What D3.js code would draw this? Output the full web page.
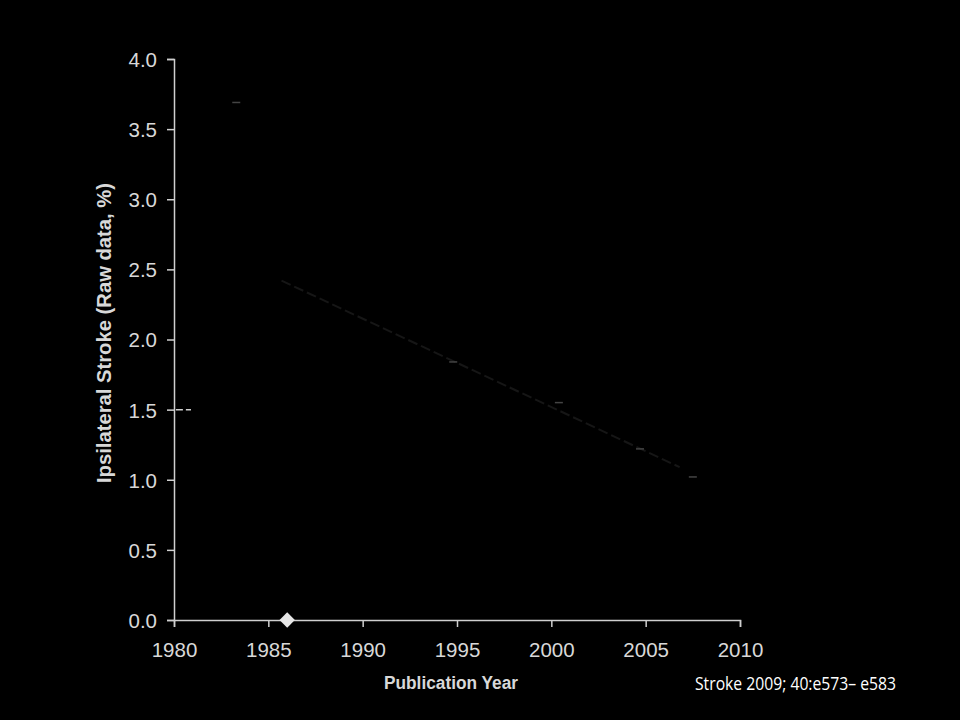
<!DOCTYPE html>
<html><head><meta charset="utf-8">
<script src="https://cdn.jsdelivr.net/npm/d3@7"></script>
<style>html,body{margin:0;padding:0;background:#000;}svg{display:block;}</style>
</head><body>
<script>
// Data
const xTicks = [1980, 1985, 1990, 1995, 2000, 2005, 2010];
const yTicks = [0.0, 0.5, 1.0, 1.5, 2.0, 2.5, 3.0, 3.5, 4.0];
const studyYears = [1983.3, 1994.8, 2000.4, 2004.7, 2007.5];
const studyValues = [3.69, 1.84, 1.55, 1.22, 1.02];
const highlightYear = [1986];
const highlightValue = [0.0];
const refYears = [1980.1, 1980.9];
const refValues = [1.5, 1.5];
const fitYears = [1985.7, 2006.8];
const fitValues = [2.42, 1.09];

const W = 960, H = 720;
const svg = d3.select("body").append("svg").attr("width", W).attr("height", H);
svg.append("rect").attr("width", W).attr("height", H).attr("fill", "#000");

const x = d3.scaleLinear().domain([1980, 2010]).range([174, 740]);
const y = d3.scaleLinear().domain([0, 4]).range([620, 59]);
const axisCol = "#cfcfcf";

// X axis
const xa = svg.append("g").attr("transform", `translate(0,${y(0)})`)
  .call(d3.axisBottom(x).tickValues(xTicks).tickFormat(d3.format("d")).tickSize(7).tickSizeOuter(7).tickPadding(15));
// Y axis
const ya = svg.append("g").attr("transform", `translate(${x(1980)},0)`)
  .call(d3.axisLeft(y).tickValues(yTicks).tickFormat(d3.format(".1f")).tickSize(7).tickSizeOuter(7).tickPadding(10));
[xa, ya].forEach(g => {
  g.selectAll("path,line").attr("stroke", axisCol).attr("stroke-width", 1.5);
  g.selectAll("text").attr("fill", "#d8d8d8").attr("font-family", "Liberation Sans, Arial, sans-serif").attr("font-size", 20.5);
});
ya.selectAll("text").attr("dy", "0.36em");

// Regression line (very faint)
svg.append("line")
  .attr("x1", x(fitYears[0])).attr("y1", y(fitValues[0]))
  .attr("x2", x(fitYears[1])).attr("y2", y(fitValues[1]))
  .attr("stroke", "#161616").attr("stroke-width", 2).attr("stroke-dasharray", "10,4");

// Faint study marks
svg.selectAll(".mk").data(studyYears).join("line").attr("class", "mk")
  .attr("x1", (d) => x(d) - 4).attr("x2", (d) => x(d) + 4)
  .attr("y1", (d, i) => y(studyValues[i])).attr("y2", (d, i) => y(studyValues[i]))
  .attr("stroke", "#444").attr("stroke-width", 1.5);

// Dashed reference near axis
svg.append("line")
  .attr("x1", x(refYears[0])).attr("x2", x(refYears[1]))
  .attr("y1", y(refValues[0])).attr("y2", y(refValues[1]))
  .attr("stroke", "#d0d0d0").attr("stroke-width", 1.5).attr("stroke-dasharray", "7,3");

// Diamond marker
svg.selectAll(".dm").data(highlightYear).join("path").attr("class", "dm")
  .attr("d", d3.symbol().type(d3.symbolDiamond2).size(150))
  .attr("transform", (d, i) => `translate(${x(d)},${y(highlightValue[i])})`)
  .attr("fill", "#e6e6e6");

// Axis titles
svg.append("text").attr("x", 451).attr("y", 689).attr("text-anchor", "middle")
  .attr("fill", "#d8d8d8").attr("font-family", "Liberation Sans, Arial, sans-serif")
  .attr("font-weight", "bold").attr("font-size", 18).attr("textLength", 134).attr("lengthAdjust", "spacingAndGlyphs")
  .text("Publication Year");
svg.append("text").attr("transform", "translate(111,333) rotate(-90)").attr("text-anchor", "middle")
  .attr("fill", "#d8d8d8").attr("font-family", "Liberation Sans, Arial, sans-serif")
  .attr("font-weight", "bold").attr("font-size", 19.5).attr("textLength", 300).attr("lengthAdjust", "spacingAndGlyphs")
  .text("Ipsilateral Stroke (Raw data, %)");

// Citation
svg.append("text").attr("x", 695).attr("y", 690)
  .attr("fill", "#ffffff").attr("font-family", "Open Sans, Noto Sans, sans-serif")
  .attr("font-size", 18.5).attr("textLength", 201).attr("lengthAdjust", "spacingAndGlyphs")
  .text("Stroke 2009; 40:e573– e583");
</script>
</body></html>
